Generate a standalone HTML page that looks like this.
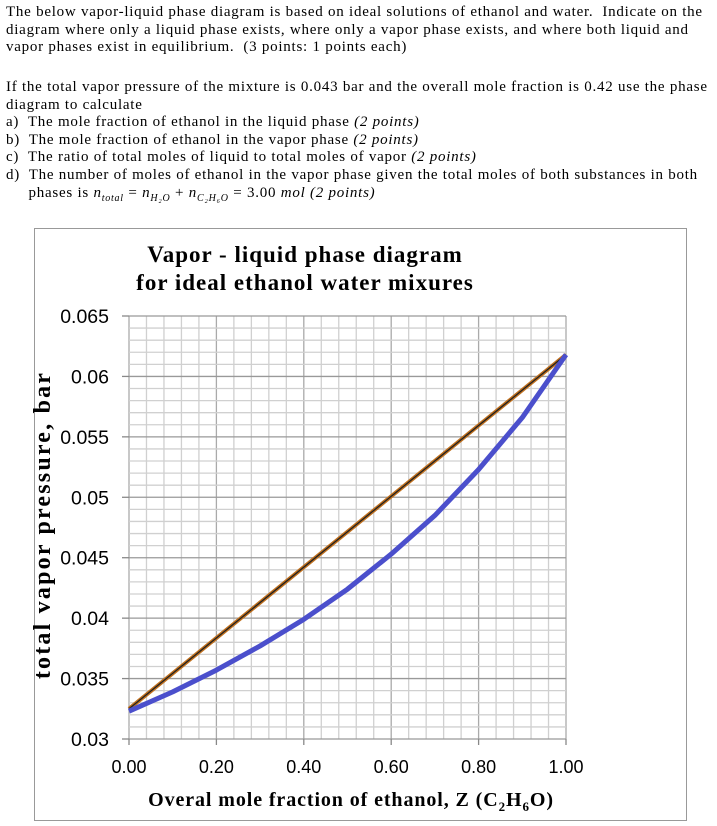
<!DOCTYPE html>
<html><head><meta charset="utf-8"><style>
body{margin:0;width:717px;height:826px;background:#fff;overflow:hidden;position:relative;font-family:"Liberation Serif",serif;color:#000}
.q{position:absolute;left:6px;font-size:15px;letter-spacing:0.75px;line-height:17.6px;white-space:nowrap}
i{font-style:italic}
</style></head><body>
<div class="q" style="top:4px">The below vapor-liquid phase diagram is based on ideal solutions of ethanol and water.&nbsp; Indicate on the<br>diagram where only a liquid phase exists, where only a vapor phase exists, and where both liquid and<br>vapor phases exist in equilibrium.&nbsp; (3 points: 1 points each)</div>
<div class="q" style="top:79px">If the total vapor pressure of the mixture is 0.043 bar and the overall mole fraction is 0.42 use the phase<br>diagram to calculate<br>a)&nbsp; The mole fraction of ethanol in the liquid phase <i>(2 points)</i><br>b)&nbsp; The mole fraction of ethanol in the vapor phase <i>(2 points)</i><br>c)&nbsp; The ratio of total moles of liquid to total moles of vapor <i>(2 points)</i><br>d)&nbsp; The number of moles of ethanol in the vapor phase given the total moles of both substances in both<br>&nbsp;&nbsp;&nbsp;&nbsp;&nbsp;phases is <i>n<sub style="font-size:10px">total</sub></i> = <i>n<sub style="font-size:10px">H₂O</sub></i> + <i>n<sub style="font-size:10px">C₂H₆O</sub></i> = 3.00 <i>mol (2 points)</i></div>
<svg width="717" height="826" style="position:absolute;left:0;top:0">
<rect x="34.5" y="228.5" width="652" height="592" fill="none" stroke="#999" stroke-width="1"/>
<g id="grid"></g><g id="axes"></g><g id="series"></g>
<text x="305" y="262" font-size="23" letter-spacing="1" font-weight="bold" text-anchor="middle" font-family="Liberation Serif,serif">Vapor - liquid phase diagram</text>
<text x="305" y="290" font-size="23" letter-spacing="1" font-weight="bold" text-anchor="middle" font-family="Liberation Serif,serif">for ideal ethanol water mixures</text>
<text x="351" y="806" font-size="20" letter-spacing="0.9" font-weight="bold" text-anchor="middle" font-family="Liberation Serif,serif">Overal mole fraction of ethanol, Z (C<tspan font-size="13" dy="5">2</tspan><tspan dy="-5">H</tspan><tspan font-size="13" dy="5">6</tspan><tspan dy="-5">O)</tspan></text>
<text transform="translate(50,525) rotate(-90)" font-size="24" letter-spacing="2.2" font-weight="bold" text-anchor="middle" font-family="Liberation Serif,serif">total vapor pressure, bar</text>
</svg>
<script>
const xTicks=[0,0.2,0.4,0.6,0.8,1.0];
const xTickLabels=["0.00","0.20","0.40","0.60","0.80","1.00"];
const yTicks=[0.03,0.035,0.04,0.045,0.05,0.055,0.06,0.065];
const yTickLabels=["0.03","0.035","0.04","0.045","0.05","0.055","0.06","0.065"];
const liquidX=[0,1];
const liquidP=[0.0325,0.0618];
const vaporX=[0,0.1,0.2,0.3,0.4,0.5,0.6,0.7,0.8,0.9,1.0];
const vaporP=[0.0323,0.0339,0.0357,0.0377,0.0399,0.0424,0.0453,0.0485,0.0523,0.0566,0.0618];
const X0=129,X1=566,Y0=739,Y1=316;
const sx=v=>X0+(v-0)/(1-0)*(X1-X0);
const sy=v=>Y0-(v-0.03)/(0.065-0.03)*(Y0-Y1);
const NS="http://www.w3.org/2000/svg";
function mk(t,a,p){const e=document.createElementNS(NS,t);for(const k in a)e.setAttribute(k,a[k]);p.appendChild(e);return e;}
const g=document.getElementById('grid'),ax=document.getElementById('axes'),s=document.getElementById('series');
for(let i=0;i<=25;i++){const v=i*0.04;const major=i%5===0;
 const l=mk('line',{x1:sx(v),x2:sx(v),y1:Y1,y2:Y0,stroke:major?'#aaa':'#d0d0d0','stroke-width':1.3},g);
 
 }
for(let i=0;i<=35;i++){const v=0.03+i*0.001;const major=i%5===0;
 const l=mk('line',{x1:X0,x2:X1,y1:sy(v),y2:sy(v),stroke:major?'#999':'#d0d0d0','stroke-width':1.3},g);
 
 }
yTicks.forEach((v,i)=>{
 const tk=mk('line',{x1:X0-7,x2:X0,y1:sy(v),y2:sy(v),stroke:'#888','stroke-width':1.3},ax);
 
 
 const t=mk('text',{x:X0-20,y:sy(v)+7,'text-anchor':'end','font-size':19.5,'font-family':'Liberation Sans,sans-serif'},ax);
 t.textContent=yTickLabels[i];
 
 });
xTicks.forEach((v,i)=>{
 const tk=mk('line',{x1:sx(v),x2:sx(v),y1:Y0,y2:Y0+6,stroke:'#888','stroke-width':1.3},ax);
 
 
 const t=mk('text',{x:sx(v),y:773,'text-anchor':'middle','font-size':18,'font-family':'Liberation Sans,sans-serif'},ax);
 t.textContent=xTickLabels[i];
 
 });
const lp=liquidX.map((x,i)=>sx(x)+','+sy(liquidP[i])).join(' ');
const b=mk('polyline',{points:lp,fill:'none',stroke:'#c0701e','stroke-width':4},s);


const b2=mk('polyline',{points:lp,fill:'none',stroke:'#222','stroke-width':1.3},s);


const vp=vaporX.map((x,i)=>sx(x)+','+sy(vaporP[i])).join(' ');
const d=mk('polyline',{points:vp,fill:'none',stroke:'#4b4fcc','stroke-width':5,'stroke-linejoin':'round'},s);


</script>
</body></html>
